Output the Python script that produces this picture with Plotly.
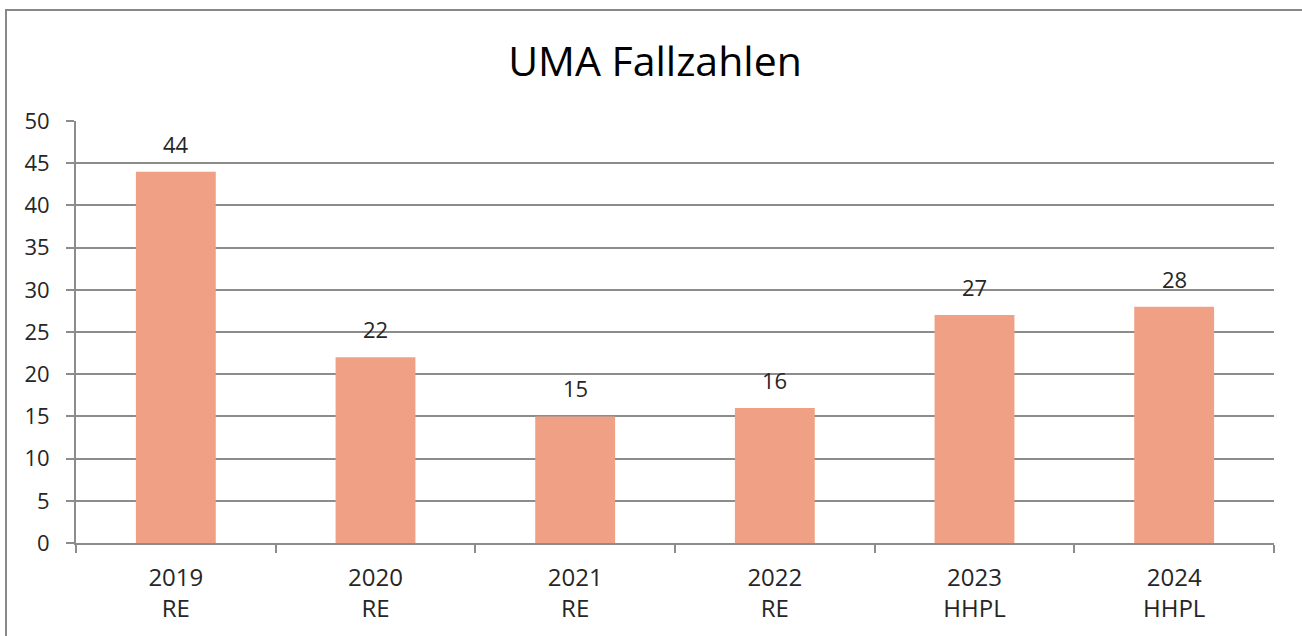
import plotly.graph_objects as go

years = ["2019", "2020", "2021", "2022", "2023", "2024"]
kinds = ["RE", "RE", "RE", "RE", "HHPL", "HHPL"]
values = [44, 22, 15, 16, 27, 28]
categories = [f"{y}<br>{k}" for y, k in zip(years, kinds)]

W, H = 1302, 636
L, T = 76, 121
R = W - 1274
B = H - 543
pw, ph = W - L - R, H - T - B

def px(x):
    return (x - L) / pw

def py(y):
    return (H - B - y) / ph

font_family = "Open Sans, Noto Sans, sans-serif"
text_color = "#262626"
grid_color = "#8c8c8c"

fig = go.Figure()
fig.add_trace(go.Bar(
    x=categories, y=values, width=0.4,
    marker=dict(color="#F0A085", line=dict(width=0)),
    hoverinfo="x+y",
))

for c, v in zip(categories, values):
    fig.add_annotation(x=c, y=v, text=str(v), showarrow=False, yshift=28,
                       font=dict(size=22, color=text_color, family=font_family))

# chart border (top and left)
fig.add_shape(type="line", xref="paper", yref="paper",
              x0=px(6), x1=px(1320), y0=py(10), y1=py(10),
              line=dict(color="#888888", width=2))
fig.add_shape(type="line", xref="paper", yref="paper",
              x0=px(6), x1=px(6), y0=py(9), y1=py(660),
              line=dict(color="#888888", width=2))

fig.update_layout(
    width=W, height=H,
    margin=dict(l=L, r=R, t=T, b=B),
    paper_bgcolor="white", plot_bgcolor="white",
    showlegend=False,
    title=dict(text="UMA Fallzahlen", x=655 / W, xanchor="center",
               y=1 - 62 / H, yanchor="middle",
               font=dict(size=41, color="black", family=font_family)),
    font=dict(family=font_family, size=22, color=text_color),
    bargap=0.6,
    xaxis=dict(showline=True, linecolor=grid_color, linewidth=2,
               ticks="outside", tickson="boundaries", ticklen=8, tickwidth=2, tickcolor=grid_color,
               tickfont=dict(size=24, color=text_color), showgrid=False,
               ticklabelstandoff=12),
    yaxis=dict(range=[0, 50], dtick=5, showline=True, linecolor=grid_color, linewidth=2,
               ticks="outside", ticklen=8, tickwidth=2, tickcolor=grid_color,
               showgrid=True, gridcolor=grid_color, gridwidth=1.5, zeroline=False,
               tickfont=dict(size=22, color=text_color), ticklabelstandoff=12),
)

fig.write_html("out.html", config={"displayModeBar": False},
               post_script="document.body.style.margin='0';document.body.style.overflow='hidden';")
